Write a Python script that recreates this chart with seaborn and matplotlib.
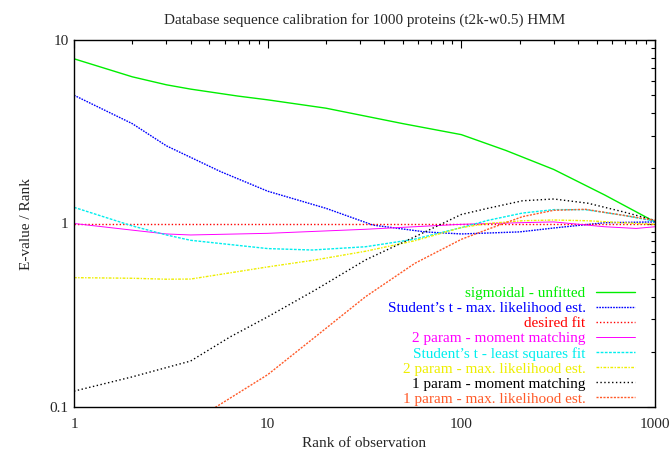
import matplotlib
matplotlib.use("Agg")
import matplotlib.pyplot as plt
import seaborn as sns
import numpy as np
import pandas as pd
from matplotlib.ticker import LogLocator, NullFormatter, FixedLocator, FixedFormatter

# E-value / rank for each calibration method, sampled along the rank axis
sig_rank = [1, 2, 3, 4, 7, 10, 20, 30, 50, 100, 170, 300, 550, 1000]
sig_val = [7.9, 6.3, 5.7, 5.4, 4.95, 4.72, 4.25, 3.9, 3.5, 3.05, 2.5, 1.97, 1.43, 1.02]

stmle_rank = [1, 2, 3, 5.7, 10, 20, 35, 65, 100, 200, 300, 550, 1000]
stmle_val = [5.0, 3.5, 2.65, 1.92, 1.5, 1.21, 0.98, 0.9, 0.877, 0.9, 0.945, 1.01, 1.02]

desired_rank = [1, 1000]
desired_val = [1.0, 1.0]

p2mm_rank = [1, 2, 3, 4, 10, 32, 100, 200, 300, 550, 800, 1000]
p2mm_val = [1.0, 0.92, 0.877, 0.866, 0.884, 0.93, 0.99, 1.01, 1.02, 0.96, 0.94, 0.96]

stls_rank = [1, 2, 3, 4, 10, 17, 32, 57, 100, 137, 207, 300, 437, 680, 1000]
stls_val = [1.225, 0.97, 0.866, 0.81, 0.73, 0.717, 0.747, 0.82, 0.95, 1.04, 1.14, 1.19, 1.19, 1.11, 1.03]

p2mle_rank = [1, 2, 3, 4, 10, 17.6, 32, 57.6, 100, 137, 207, 300, 450, 680, 1000]
p2mle_val = [0.507, 0.503, 0.497, 0.498, 0.58, 0.633, 0.706, 0.806, 0.95, 1.0, 1.035, 1.045, 1.035, 1.01, 0.99]

p1mm_rank = [1, 2, 3, 4, 6.4, 10, 17.6, 32, 57.6, 100, 137, 207, 300, 450, 680, 1000]
p1mm_val = [0.122, 0.146, 0.164, 0.178, 0.241, 0.31, 0.434, 0.633, 0.847, 1.12, 1.21, 1.33, 1.36, 1.29, 1.16, 1.04]

p1mle_rank = [5, 10, 17.6, 32, 57.6, 100, 137, 207, 300, 437, 680, 1000]
p1mle_val = [0.095, 0.15, 0.241, 0.399, 0.607, 0.82, 0.93, 1.09, 1.18, 1.195, 1.11, 1.04]

labels = [
    "sigmoidal - unfitted",
    "Student\u2019s t - max. likelihood est.",
    "desired fit",
    "2 param - moment matching",
    "Student\u2019s t - least squares fit",
    "2 param - max. likelihood est.",
    "1 param - moment matching",
    "1 param - max. likelihood est.",
]
colors = ["#00ee00", "#0000ff", "#ff0000", "#ff00ff", "#00eeee", "#eeee00", "#000000", "#ff5a28"]
styles = ["-", (0, (1.2, 0.8)), (0, (1, 1.5)), "-", (0, (2, 1)), (0, (2, 1, 1, 1)), (0, (1, 1.8)), (0, (1.5, 1))]
widths = [1.0, 1.0, 1.0, 0.7, 1.0, 1.0, 1.0, 1.0]

series = [
    (sig_rank, sig_val), (stmle_rank, stmle_val), (desired_rank, desired_val),
    (p2mm_rank, p2mm_val), (stls_rank, stls_val), (p2mle_rank, p2mle_val),
    (p1mm_rank, p1mm_val), (p1mle_rank, p1mle_val),
]

sns.set_style("white")
plt.rcParams["font.family"] = ["Liberation Serif", "DejaVu Serif"]
plt.rcParams["font.size"] = 11

fig = plt.figure(figsize=(6.7, 4.53), dpi=100)
ax = fig.add_axes([74 / 670, 1 - 407 / 453, 581 / 670, 367 / 453])

for (r, v), lab, c, ls, lw in zip(series, labels, colors, styles, widths):
    df = pd.DataFrame({"rank": r, "value": v})
    sns.lineplot(data=df, x="rank", y="value", ax=ax, color=c, label=lab,
                 linestyle=ls, linewidth=lw, sort=False, estimator=None)

ax.set_xscale("log")
ax.set_yscale("log")
ax.set_xlim(1, 1000)
ax.set_ylim(0.1, 10)

ax.xaxis.set_major_locator(FixedLocator([1, 10, 100, 1000]))
ax.xaxis.set_major_formatter(FixedFormatter(["1", "10", "100", "1000"]))
ax.yaxis.set_major_locator(FixedLocator([0.1, 1, 10]))
ax.yaxis.set_major_formatter(FixedFormatter(["0.1", "1", "10"]))
ax.xaxis.set_minor_locator(LogLocator(base=10, subs=np.arange(2, 10), numticks=20))
ax.yaxis.set_minor_locator(LogLocator(base=10, subs=np.arange(2, 10), numticks=20))
ax.xaxis.set_minor_formatter(NullFormatter())
ax.yaxis.set_minor_formatter(NullFormatter())
ax.tick_params(which="both", direction="in", top=True, right=True, color="black", labelsize=11)
ax.tick_params(which="major", length=6, width=0.8)
ax.tick_params(axis="x", which="major", pad=8)
ax.tick_params(axis="y", which="major", pad=4)
ax.tick_params(which="minor", length=3, width=0.8)
for s in ax.spines.values():
    s.set_color("black")
    s.set_linewidth(1.0)

ax.set_xlabel("Rank of observation", fontsize=11, labelpad=4)
ax.set_ylabel("E-value / Rank", fontsize=11, labelpad=12)
ax.set_title("Database sequence calibration for 1000 proteins (t2k-w0.5) HMM", fontsize=10.9, pad=12)

leg = ax.legend(loc="lower right", bbox_to_anchor=(0.966, 0.004), frameon=False,
                markerfirst=False, labelcolor="linecolor", fontsize=11,
                handlelength=2.6, handletextpad=0.65, labelspacing=0.085,
                borderpad=0, borderaxespad=0)

fig.savefig("out.png", dpi=100)
